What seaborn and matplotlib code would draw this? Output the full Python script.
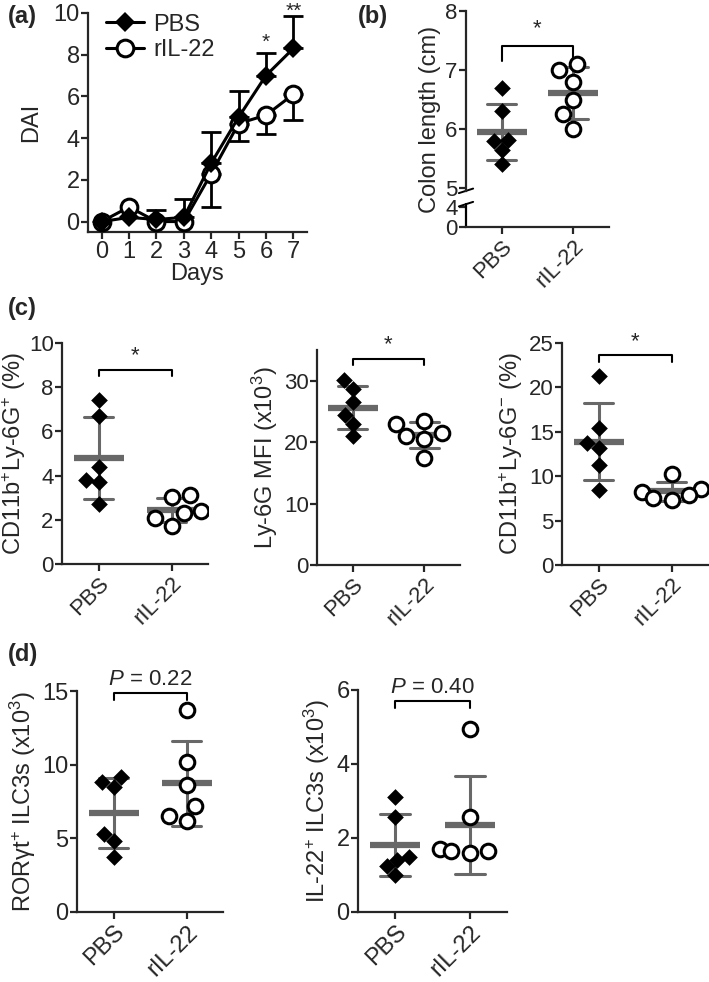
import numpy as np
import pandas as pd
import matplotlib
matplotlib.use('Agg')
import matplotlib.pyplot as plt
import matplotlib.transforms as mtransforms
import seaborn as sns

sns.set_style('ticks')
plt.rcParams['font.family'] = ['Liberation Sans', 'DejaVu Sans']
plt.rcParams['mathtext.fontset'] = 'custom'
plt.rcParams['mathtext.rm'] = 'Liberation Sans'
plt.rcParams['mathtext.it'] = 'Liberation Sans:italic'
plt.rcParams['mathtext.default'] = 'regular'
plt.rcParams['font.size'] = 17
plt.rcParams['axes.linewidth'] = 1.6
plt.rcParams['xtick.major.width'] = 1.6
plt.rcParams['ytick.major.width'] = 1.6
plt.rcParams['xtick.major.size'] = 5
plt.rcParams['ytick.major.size'] = 5
plt.rcParams['xtick.major.pad'] = 1.5
plt.rcParams['ytick.major.pad'] = 1
plt.rcParams['xtick.labelsize'] = 16
plt.rcParams['ytick.labelsize'] = 16
plt.rcParams['axes.labelsize'] = 17

groups = ['PBS', 'rIL-22']

# (a) DAI time course
days = [0, 1, 2, 3, 4, 5, 6, 7]
dai_pbs = [0, 0.2, 0.1, 0.2, 2.8, 5.0, 7.0, 8.3]
dai_pbs_err = [0, 0, 0.45, 0.9, 1.5, 1.25, 1.1, 1.55]
dai_ril22 = [0, 0.7, 0, 0, 2.3, 4.7, 5.1, 6.1]
dai_ril22_err = [0, 0, 0, 0, 1.6, 0.85, 0.9, 1.25]

# (b) colon length
colon_pbs = [6.7, 6.3, 5.82, 5.8, 5.65, 5.4]
colon_ril22 = [7.1, 7.0, 6.8, 6.5, 6.25, 6.0]

# (c)
neut_pbs = [7.4, 6.7, 4.4, 3.8, 3.7, 2.7]
neut_ril22 = [3.1, 3.05, 2.4, 2.3, 2.1, 1.7]
mfi_pbs = [30.1, 28.7, 26.5, 24.5, 23.0, 21.0]
mfi_ril22 = [23.5, 23.0, 21.5, 21.0, 20.5, 17.5]
mono_pbs = [21.3, 15.4, 13.7, 13.2, 11.3, 8.5]
mono_ril22 = [10.3, 8.6, 8.2, 7.9, 7.5, 7.3]

# (d)
ror_pbs = [9.15, 8.8, 8.5, 5.3, 4.8, 3.7]
ror_ril22 = [13.7, 10.2, 8.6, 7.2, 6.5, 6.15]
il22_pbs = [3.12, 2.56, 1.5, 1.41, 1.23, 1.0]
il22_ril22 = [4.94, 2.56, 1.7, 1.65, 1.65, 1.6]

W, H = 709, 982
fig = plt.figure(figsize=(W / 100, H / 100), dpi=100)


def px_axes(l, t, r, b):
    return fig.add_axes([l / W, 1 - b / H, (r - l) / W, (b - t) / H])


def scatter_panel(ax, pbs, ril, ylim, yticks, ylabel, bracket_y, sig):
    df = pd.DataFrame({'group': ['PBS'] * len(pbs) + ['rIL-22'] * len(ril),
                       'value': list(pbs) + list(ril)})
    sns.swarmplot(data=df[df.group == 'PBS'], x='group', y='value', order=groups,
                  marker='D', color='black', size=8.5, linewidth=0, ax=ax)
    sns.swarmplot(data=df[df.group == 'rIL-22'], x='group', y='value', order=groups,
                  marker='o', color='white', edgecolor='black', linewidth=2.2,
                  size=10.5, ax=ax)
    sns.pointplot(data=df, x='group', y='value', order=groups, errorbar='sd',
                  capsize=0.4, color='#686868', marker='_', markersize=36,
                  markeredgewidth=4.5, linestyle='none',
                  err_kws={'linewidth': 2.2}, ax=ax)
    ax.set_xlim(-0.5, 1.5)
    ax.set_ylim(*ylim)
    ax.set_yticks(yticks)
    ax.set_xlabel('')
    ax.set_ylabel(ylabel, labelpad=3)
    ax.set_xticks([0, 1])
    ax.set_xticklabels(groups, rotation=45, ha='right', rotation_mode='anchor')
    sns.despine(ax=ax)
    rng = ylim[1] - ylim[0]
    h = 0.03 * rng
    ax.plot([0, 0, 1, 1], [bracket_y - h, bracket_y, bracket_y, bracket_y - h],
            color='black', lw=1.5, clip_on=False)
    ax.text(0.5, bracket_y + 0.015 * rng, sig, ha='center', va='bottom',
            fontsize=16)


# ---------- (a)
ax = px_axes(88, 13, 307, 232)
sns.lineplot(x=days, y=dai_ril22, marker='o', color='black', linewidth=2.2,
             markersize=12, markerfacecolor='white', markeredgecolor='black',
             markeredgewidth=2.2, label='rIL-22', ax=ax, zorder=3)
sns.lineplot(x=days, y=dai_pbs, marker='D', color='black', linewidth=2.2,
             markersize=10, markeredgewidth=0, label='PBS', ax=ax, zorder=4)
d = np.array(days)
pe = np.array(dai_pbs_err)
re = np.array(dai_ril22_err)
m = pe > 0
ax.errorbar(d[m], np.array(dai_pbs)[m], yerr=[np.zeros(m.sum()), pe[m]], fmt='none',
            ecolor='black', elinewidth=2, capsize=7, capthick=2, zorder=2)
m = re > 0
ax.errorbar(d[m], np.array(dai_ril22)[m], yerr=[re[m], np.zeros(m.sum())], fmt='none',
            ecolor='black', elinewidth=2, capsize=7, capthick=2, zorder=2)
ax.set_xlim(-0.5, 7.5)
ax.set_ylim(-0.5, 10)
ax.set_xticks(days)
ax.set_yticks([0, 2, 4, 6, 8, 10])
ax.tick_params(labelsize=17)
ax.set_xlabel('Days', labelpad=0)
ax.set_ylabel('DAI', labelpad=8)
sns.despine(ax=ax)
handles, labels = ax.get_legend_handles_labels()
ax.legend(handles[::-1], labels[::-1], loc='upper left', frameon=False,
          fontsize=17, handlelength=1.6, handletextpad=0.4,
          borderaxespad=0.0, labelspacing=0.15, bbox_to_anchor=(0.04, 1.04))
ax.text(6, 8.35, '*', ha='center', va='baseline', fontsize=15)
ax.text(7, 9.8, '**', ha='center', va='baseline', fontsize=15, clip_on=False)
fig.text(8 / W, 1 - 16 / H, '(a)', fontsize=17, fontweight='bold', va='center')

# ---------- (b) colon length with broken axis
ax = px_axes(466, 11, 609, 227)
fwd_x = [0, 4, 5, 8]
fwd_y = [0, 20, 39, 216]
ax.set_yscale('function', functions=(lambda v: np.interp(v, fwd_x, fwd_y),
                                     lambda v: np.interp(v, fwd_y, fwd_x)))
scatter_panel(ax, colon_pbs, colon_ril22, (0, 8), [0, 4, 5, 6, 7, 8],
              'Colon length (cm)', 7.4, '*')
ax.spines['left'].set_bounds(4.85, 8)
trans = mtransforms.blended_transform_factory(ax.transAxes, ax.transData)
ax.plot([0, 0], [0, 4.15], color='black', lw=1.6, transform=trans, clip_on=False)
for yb in (4.85, 4.15):
    ax.plot([-0.05, 0.05], [yb - 0.12, yb + 0.12], color='black', lw=1.4,
            transform=trans, clip_on=False)
fig.text(358 / W, 1 - 16 / H, '(b)', fontsize=17, fontweight='bold', va='center')

# ---------- (c)
ax = px_axes(62, 343, 208, 564)
scatter_panel(ax, neut_pbs, neut_ril22, (0, 10), [0, 2, 4, 6, 8, 10],
              'CD11b$^{+}$Ly-6G$^{+}$ (%)', 8.8, '*')
ax.yaxis.set_label_coords(-0.23, 0.5)
fig.text(8 / W, 1 - 308 / H, '(c)', fontsize=17, fontweight='bold', va='center')

ax = px_axes(317, 350, 460, 565)
scatter_panel(ax, mfi_pbs, mfi_ril22, (0, 35), [0, 10, 20, 30],
              'Ly-6G MFI (x10$^{3}$)', 33.6, '*')

ax = px_axes(562, 343, 708, 565)
scatter_panel(ax, mono_pbs, mono_ril22, (0, 25), [0, 5, 10, 15, 20, 25],
              'CD11b$^{+}$Ly-6G$^{-}$ (%)', 23.6, '*')

# ---------- (d)
ax = px_axes(77, 691, 223, 912)
scatter_panel(ax, ror_pbs, ror_ril22, (0, 15), [0, 5, 10, 15],
              'RORγt$^{+}$ ILC3s (x10$^{3}$)', 14.85, r'$\mathit{P}$ = 0.22')
ax.tick_params(labelsize=17)
fig.text(8 / W, 1 - 655 / H, '(d)', fontsize=17, fontweight='bold', va='center')

ax = px_axes(358, 690, 507, 912)
scatter_panel(ax, il22_pbs, il22_ril22, (0, 6), [0, 2, 4, 6],
              'IL-22$^{+}$ ILC3s (x10$^{3}$)', 5.7, r'$\mathit{P}$ = 0.40')
ax.tick_params(labelsize=17)

fig.savefig('out.png', dpi=100)
